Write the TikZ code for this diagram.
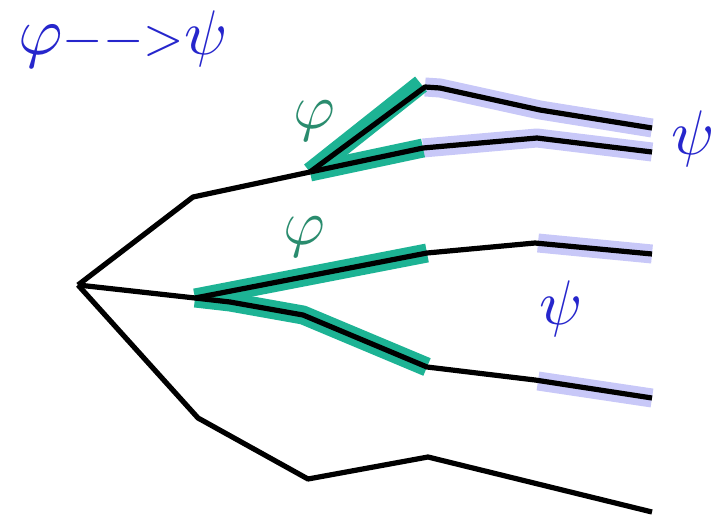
\documentclass[tikz,border=0pt]{standalone}
\usepackage{graphicx}
\usetikzlibrary{calc}
\definecolor{hlgreen}{HTML}{1DB394}
\definecolor{hllav}{HTML}{C8C8F8}
\definecolor{phigreen}{HTML}{2A8C6E}
\definecolor{psiblue}{HTML}{2626CC}
\begin{document}
\begin{tikzpicture}[x=1pt,y=-1pt,line join=round,
  branch/.style={line width=5.2pt,black},
  greenhl/.style={line width=19pt,hlgreen},
  lavhl/.style={line width=19pt,hllav},
  philabel/.style={text=phigreen,scale=6.4,inner sep=0pt},
  psilabel/.style={text=psiblue,scale=6.3,inner sep=0pt}]
\fill[white] (0,0) rectangle (715,516);
\useasboundingbox (0,0) rectangle (715,516);
% coordinates
\coordinate (R) at (78,285);
\coordinate (A) at (193,197);
\coordinate (B) at (310,172);
\coordinate (Ua) at (425,87);
\coordinate (Ub) at (440,88);
\coordinate (Uc) at (540,110);
\coordinate (Ud) at (652,128);
\coordinate (La) at (423,148);
\coordinate (Lb) at (537,138);
\coordinate (Lc) at (652,152);
\coordinate (C) at (195,298);
\coordinate (Ma) at (427,253);
\coordinate (Mb) at (535,243);
\coordinate (Mc) at (652,254);
\coordinate (Na) at (303,315);
\coordinate (Nb) at (427,367);
\coordinate (Nc) at (535,380);
\coordinate (Nd) at (652,398);
\coordinate (D) at (198,418);
\coordinate (E) at (308,479);
\coordinate (F) at (428,457);
\coordinate (G) at (652,512);
% lavender highlights
\draw[lavhl] (Ua) -- (Ub) -- (Uc) -- (Ud);
\draw[lavhl] (La) -- (Lb) -- (Lc);
\draw[lavhl] ($(Mb)+(3,0)$) -- (Mc);
\draw[lavhl] ($(Nc)+(3,1)$) -- (Nd);
% green highlights
\draw[greenhl] (B) -- (421,84);
\draw[greenhl] (B) -- (La);
\draw[greenhl] (C) -- (Ma);
\draw[greenhl] (C) -- (230,302) -- (Na) -- (Nb);
% black branches
\draw[branch] (R) -- (A) -- (B);
\draw[branch] (B) -- (Ua) -- (Ub) -- (Uc) -- (Ud);
\draw[branch] (B) -- (La) -- (Lb) -- (Lc);
\draw[branch] (R) -- (C);
\draw[branch] (C) -- (Ma) -- (Mb) -- (Mc);
\draw[branch] (C) -- (230,302) -- (Na) -- (Nb) -- (Nc) -- (Nd);
\draw[branch] (R) -- (D) -- (E) -- (F) -- (G);
% labels
\node[philabel] (phi1) at (314,121) {$\varphi$};
\node[philabel] (phi2) at (304,237) {$\varphi$};
\node[psilabel] (psi1) at (693,139) {$\psi$};
\node[psilabel] (psi2) at (561,309) {$\psi$};
\node[anchor=base west,inner sep=0pt,text=psiblue] (title) at (18,55)
  {\scalebox{6.8}{$\varphi$}\scalebox{5.2}{${-}{-}{>}$}\scalebox{6.3}{$\psi$}};
\end{tikzpicture}
\end{document}
